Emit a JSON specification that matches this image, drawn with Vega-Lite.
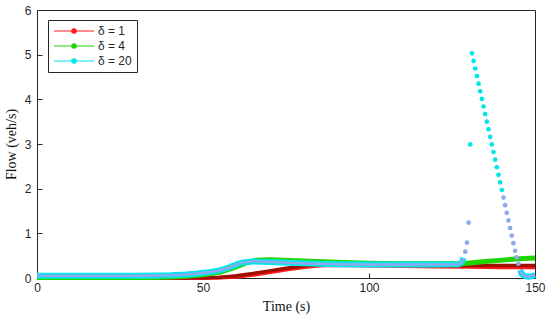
{
  "$schema": "https://vega.github.io/schema/vega-lite/v6.json",
  "width": 498,
  "height": 268,
  "autosize": {"type": "none"},
  "padding": {"left": 37, "top": 10, "right": 15, "bottom": 46},
  "background": "white",
  "config": {
    "view": {"stroke": "#262626", "strokeWidth": 1},
    "axis": {
      "grid": false,
      "domainColor": "#262626",
      "tickColor": "#262626",
      "labelColor": "#262626",
      "labelFont": "Liberation Sans",
      "labelFontSize": 12,
      "titleFont": "Liberation Serif",
      "titleFontSize": 14,
      "titleFontWeight": "normal",
      "titleColor": "#111111"
    },
    "legend": {
      "title": null,
      "orient": "none",
      "legendX": 11,
      "legendY": 10,
      "strokeColor": "#262626",
      "fillColor": "white",
      "padding": 5,
      "rowPadding": 3,
      "symbolType": "M-4,0H4M0.45,0A0.45,0.45,0,1,1,-0.45,0A0.45,0.45,0,1,1,0.45,0",
      "symbolSize": 100,
      "symbolStrokeWidth": 1.1,
      "symbolOffset": 15,
      "labelOffset": 18,
      "labelFont": "Liberation Sans",
      "labelFontSize": 12,
      "labelColor": "#262626"
    }
  },
  "datasets": {
    "flow": [
      {"t": 0, "v": 0.0, "s": "δ = 1"},
      {"t": 20, "v": 0.0, "s": "δ = 1"},
      {"t": 40, "v": 0.0, "s": "δ = 1"},
      {"t": 50, "v": 0.0, "s": "δ = 1"},
      {"t": 55, "v": 0.01, "s": "δ = 1"},
      {"t": 60, "v": 0.03, "s": "δ = 1"},
      {"t": 65, "v": 0.07, "s": "δ = 1"},
      {"t": 70, "v": 0.13, "s": "δ = 1"},
      {"t": 75, "v": 0.19, "s": "δ = 1"},
      {"t": 80, "v": 0.24, "s": "δ = 1"},
      {"t": 85, "v": 0.28, "s": "δ = 1"},
      {"t": 90, "v": 0.29, "s": "δ = 1"},
      {"t": 100, "v": 0.28, "s": "δ = 1"},
      {"t": 110, "v": 0.27, "s": "δ = 1"},
      {"t": 120, "v": 0.26, "s": "δ = 1"},
      {"t": 130, "v": 0.25, "s": "δ = 1"},
      {"t": 140, "v": 0.24, "s": "δ = 1"},
      {"t": 150, "v": 0.24, "s": "δ = 1"},
      {"t": 0, "v": 0.01, "s": "δ = 4"},
      {"t": 20, "v": 0.01, "s": "δ = 4"},
      {"t": 35, "v": 0.01, "s": "δ = 4"},
      {"t": 40, "v": 0.02, "s": "δ = 4"},
      {"t": 45, "v": 0.04, "s": "δ = 4"},
      {"t": 50, "v": 0.07, "s": "δ = 4"},
      {"t": 55, "v": 0.13, "s": "δ = 4"},
      {"t": 60, "v": 0.25, "s": "δ = 4"},
      {"t": 63, "v": 0.34, "s": "δ = 4"},
      {"t": 66, "v": 0.40, "s": "δ = 4"},
      {"t": 70, "v": 0.41, "s": "δ = 4"},
      {"t": 80, "v": 0.38, "s": "δ = 4"},
      {"t": 90, "v": 0.35, "s": "δ = 4"},
      {"t": 100, "v": 0.33, "s": "δ = 4"},
      {"t": 110, "v": 0.32, "s": "δ = 4"},
      {"t": 120, "v": 0.32, "s": "δ = 4"},
      {"t": 128, "v": 0.32, "s": "δ = 4"},
      {"t": 135, "v": 0.37, "s": "δ = 4"},
      {"t": 140, "v": 0.40, "s": "δ = 4"},
      {"t": 145, "v": 0.43, "s": "δ = 4"},
      {"t": 150, "v": 0.45, "s": "δ = 4"},
      {"t": 0, "v": 0.05, "s": "δ = 20"},
      {"t": 10, "v": 0.05, "s": "δ = 20"},
      {"t": 20, "v": 0.05, "s": "δ = 20"},
      {"t": 30, "v": 0.05, "s": "δ = 20"},
      {"t": 40, "v": 0.06, "s": "δ = 20"},
      {"t": 45, "v": 0.08, "s": "δ = 20"},
      {"t": 50, "v": 0.11, "s": "δ = 20"},
      {"t": 55, "v": 0.17, "s": "δ = 20"},
      {"t": 58, "v": 0.24, "s": "δ = 20"},
      {"t": 60, "v": 0.30, "s": "δ = 20"},
      {"t": 62, "v": 0.35, "s": "δ = 20"},
      {"t": 65, "v": 0.37, "s": "δ = 20"},
      {"t": 70, "v": 0.36, "s": "δ = 20"},
      {"t": 80, "v": 0.33, "s": "δ = 20"},
      {"t": 90, "v": 0.31, "s": "δ = 20"},
      {"t": 100, "v": 0.30, "s": "δ = 20"},
      {"t": 110, "v": 0.30, "s": "δ = 20"},
      {"t": 120, "v": 0.30, "s": "δ = 20"},
      {"t": 127, "v": 0.31, "s": "δ = 20"},
      {"t": 128, "v": 0.36, "s": "δ = 20"},
      {"t": 128.5, "v": 0.45, "s": "δ = 20"},
      {"t": 129, "v": 0.59, "s": "δ = 20"},
      {"t": 129.5, "v": 0.79, "s": "δ = 20"},
      {"t": 130, "v": 1.24, "s": "δ = 20"},
      {"t": 130.5, "v": 2.99, "s": "δ = 20"},
      {"t": 131, "v": 5.03, "s": "δ = 20"},
      {"t": 131.5, "v": 4.86, "s": "δ = 20"},
      {"t": 132, "v": 4.69, "s": "δ = 20"},
      {"t": 132.5, "v": 4.52, "s": "δ = 20"},
      {"t": 133, "v": 4.35, "s": "δ = 20"},
      {"t": 133.5, "v": 4.18, "s": "δ = 20"},
      {"t": 134, "v": 4.01, "s": "δ = 20"},
      {"t": 134.5, "v": 3.84, "s": "δ = 20"},
      {"t": 135, "v": 3.67, "s": "δ = 20"},
      {"t": 135.5, "v": 3.50, "s": "δ = 20"},
      {"t": 136, "v": 3.33, "s": "δ = 20"},
      {"t": 136.5, "v": 3.16, "s": "δ = 20"},
      {"t": 137, "v": 2.99, "s": "δ = 20"},
      {"t": 137.5, "v": 2.82, "s": "δ = 20"},
      {"t": 138, "v": 2.65, "s": "δ = 20"},
      {"t": 138.5, "v": 2.48, "s": "δ = 20"},
      {"t": 139, "v": 2.31, "s": "δ = 20"},
      {"t": 139.5, "v": 2.14, "s": "δ = 20"},
      {"t": 140, "v": 1.97, "s": "δ = 20"},
      {"t": 140.5, "v": 1.80, "s": "δ = 20"},
      {"t": 141, "v": 1.63, "s": "δ = 20"},
      {"t": 141.5, "v": 1.46, "s": "δ = 20"},
      {"t": 142, "v": 1.29, "s": "δ = 20"},
      {"t": 142.5, "v": 1.12, "s": "δ = 20"},
      {"t": 143, "v": 0.95, "s": "δ = 20"},
      {"t": 143.5, "v": 0.78, "s": "δ = 20"},
      {"t": 144, "v": 0.61, "s": "δ = 20"},
      {"t": 144.5, "v": 0.46, "s": "δ = 20"},
      {"t": 145, "v": 0.32, "s": "δ = 20"},
      {"t": 145.5, "v": 0.18, "s": "δ = 20"},
      {"t": 146, "v": 0.09, "s": "δ = 20"},
      {"t": 147, "v": 0.04, "s": "δ = 20"},
      {"t": 148, "v": 0.03, "s": "δ = 20"},
      {"t": 149, "v": 0.04, "s": "δ = 20"},
      {"t": 150, "v": 0.07, "s": "δ = 20"}
    ],
    "dark": [
      {"t": 0, "v": 0.0},
      {"t": 40, "v": 0.0},
      {"t": 55, "v": 0.01},
      {"t": 60, "v": 0.05},
      {"t": 65, "v": 0.10},
      {"t": 70, "v": 0.16},
      {"t": 75, "v": 0.22},
      {"t": 80, "v": 0.27},
      {"t": 85, "v": 0.30},
      {"t": 90, "v": 0.31},
      {"t": 100, "v": 0.30},
      {"t": 110, "v": 0.29},
      {"t": 120, "v": 0.28},
      {"t": 130, "v": 0.28},
      {"t": 140, "v": 0.28},
      {"t": 150, "v": 0.28}
    ]
  },
  "encoding": {
    "x": {
      "field": "t", "type": "quantitative",
      "scale": {"domain": [0, 150], "nice": false, "zero": false},
      "axis": {"values": [0, 50, 100, 150], "tickSize": -5, "labelPadding": 9, "title": "Time (s)", "titlePadding": 6, "labelFlush": false}
    },
    "y": {
      "field": "v", "type": "quantitative",
      "scale": {"domain": [0, 6], "nice": false},
      "axis": {"values": [0, 1, 2, 3, 4, 5, 6], "tickSize": -5, "labelPadding": 11, "title": "Flow (veh/s)", "titlePadding": 6}
    }
  },
  "layer": [
    {
      "data": {"name": "flow"},
      "transform": [{"filter": "datum.s != 'δ = 20' || datum.t <= 128.6 || datum.t >= 145.4"}],
      "mark": {"type": "line", "strokeWidth": 1.1, "opacity": 0},
      "encoding": {
        "color": {
          "field": "s", "type": "nominal",
          "scale": {"domain": ["δ = 1", "δ = 4", "δ = 20"], "range": ["#ff1a1a", "#22d400", "#00e5ee"]},
          "legend": {"symbolStrokeWidth": 1.1, "encode": {"symbols": {"update": {"fill": {"scale": "color", "field": "value"}, "opacity": {"value": 1}, "strokeWidth": {"value": 1.1}}}}}
        }
      }
    },
    {
      "data": {"name": "flow"},
      "transform": [{"filter": "datum.s == 'δ = 1'"}],
      "mark": {"type": "line", "strokeWidth": 4},
      "encoding": {"color": {"field": "s", "type": "nominal"}}
    },
    {
      "data": {"name": "dark"},
      "mark": {"type": "line", "strokeWidth": 3.5, "color": "#a01000"},
      "encoding": {}
    },
    {
      "data": {"name": "flow"},
      "transform": [{"filter": "datum.s == 'δ = 4'"}],
      "mark": {"type": "line", "strokeWidth": 5},
      "encoding": {"color": {"field": "s", "type": "nominal"}}
    },
    {
      "data": {"name": "flow"},
      "transform": [{"filter": "datum.s == 'δ = 20' && datum.t <= 128.6"}],
      "mark": {"type": "line", "strokeWidth": 6},
      "encoding": {"color": {"field": "s", "type": "nominal"}}
    },
    {
      "data": {"name": "flow"},
      "transform": [{"filter": "datum.s == 'δ = 20' && datum.t >= 145.4"}],
      "mark": {"type": "line", "strokeWidth": 6},
      "encoding": {"color": {"field": "s", "type": "nominal"}}
    },
    {
      "data": {"name": "flow"},
      "transform": [{"filter": "datum.s == 'δ = 20' && datum.t <= 128.6"}],
      "mark": {"type": "line", "strokeWidth": 2.5, "color": "#8fa8ee"},
      "encoding": {}
    },
    {
      "data": {"name": "flow"},
      "transform": [{"filter": "datum.s == 'δ = 20' && datum.t >= 145.4"}],
      "mark": {"type": "line", "strokeWidth": 2.5, "color": "#8fa8ee"},
      "encoding": {}
    },
    {
      "data": {"name": "flow"},
      "transform": [{"filter": "datum.s == 'δ = 20' && datum.t > 128.6 && datum.t < 145.4"}],
      "mark": {"type": "circle", "size": 22, "opacity": 1},
      "encoding": {
        "color": {"condition": {"test": "datum.v >= 1.9", "value": "#00e5ee"}, "value": "#8fa8ee"}
      }
    }
  ]
}
